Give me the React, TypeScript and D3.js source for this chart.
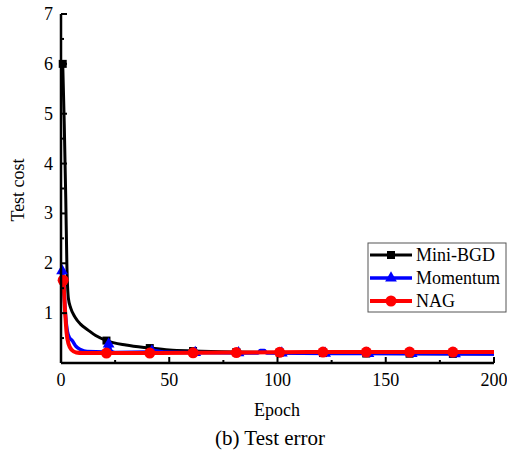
import React from "react";
import * as d3 from "d3";

const seriesNames = ["Mini-BGD", "Momentum", "NAG"];
const seriesColors = ["#000000", "#0000ff", "#ff0000"];

const miniBGD: [number, number][] = [
  [0.8, 6.0], [1.5, 4.8], [2.2, 3.3], [2.7, 2.0], [3.4, 1.3], [4.5, 1.1], [6.5, 0.92],
  [9, 0.78], [12.5, 0.66], [16, 0.55], [21, 0.45], [30, 0.36], [41, 0.3], [50, 0.26],
  [61, 0.24], [80, 0.22], [100, 0.21], [140, 0.19], [200, 0.18],
];
const momentum: [number, number][] = [
  [0.5, 1.85], [1, 1.75], [2, 1.0], [3, 0.62], [4, 0.5], [5, 0.46], [7, 0.33], [9, 0.27],
  [12, 0.23], [20, 0.22], [21, 0.3], [22, 0.38], [23, 0.25], [25, 0.21], [40, 0.22],
  [43, 0.25], [47, 0.22], [60, 0.21], [91, 0.2], [92, 0.25], [94, 0.25], [95, 0.2],
  [140, 0.19], [200, 0.18],
];
const nag: [number, number][] = [
  [0.5, 1.7], [1, 1.66], [1.8, 1.1], [2.6, 0.6], [3.5, 0.38], [5, 0.26], [7, 0.21],
  [10, 0.2], [40, 0.2], [80, 0.21], [120, 0.22], [200, 0.22],
];
const miniMarkers = [0.8, 21, 41, 61, 81, 101, 121, 141, 161, 181];
const momMarkers = [0.5, 22, 42, 62, 82, 102, 122, 142, 162, 182];
const nagMarkers = [1, 21, 41, 61, 81, 101, 121, 141, 161, 181];

const xTicks = [0, 50, 100, 150, 200];
const yTicks = [1, 2, 3, 4, 5, 6, 7];

const FONT = "'Liberation Serif', 'Times New Roman', serif";

function interp(data: [number, number][], x: number) {
  for (let i = 0; i < data.length - 1; i++) {
    if (x >= data[i][0] && x <= data[i + 1][0]) {
      const t = (x - data[i][0]) / (data[i + 1][0] - data[i][0]);
      return data[i][1] + t * (data[i + 1][1] - data[i][1]);
    }
  }
  return data[data.length - 1][1];
}

export default function App() {
  const W = 507, H = 450;
  const x = d3.scaleLinear().domain([0, 200]).range([61, 494]);
  const y = d3.scaleLinear().domain([0, 7]).range([363, 14]);
  const line = d3.line<[number, number]>().x(d => x(d[0])).y(d => y(d[1])).curve(d3.curveMonotoneX);

  const series = [miniBGD, momentum, nag];
  const markers = [miniMarkers, momMarkers, nagMarkers];
  const widths = [3, 3.5, 4];

  const marker = (i: number, cx: number, cy: number, key: string) => {
    const c = seriesColors[i];
    if (i === 0) return <rect key={key} x={cx - 4} y={cy - 4} width={8} height={8} fill={c} />;
    if (i === 1) {
      const p = d3.symbol().type(d3.symbolTriangle).size(60)();
      return <path key={key} d={p || ""} transform={`translate(${cx},${cy})`} fill={c} />;
    }
    return <circle key={key} cx={cx} cy={cy} r={5.5} fill={c} />;
  };

  const xMinor = d3.range(0, 201, 25);
  const yMinor = d3.range(0.5, 7.01, 0.5);

  return (
    <svg width={W} height={H} style={{ position: "absolute", left: 0, top: 0, background: "#fff" }} fontFamily={FONT}>
      <rect width={W} height={H} fill="#fff" />
      {series.map((s, i) => (
        <g key={i}>
          <path d={line(s) || ""} fill="none" stroke={seriesColors[i]} strokeWidth={widths[i]} strokeLinejoin="round" />
          {markers[i].map((m, j) => marker(i, x(m), y(interp(s, m)), `m${i}-${j}`))}
        </g>
      ))}
      {/* axes */}
      <line x1={x(0)} x2={x(200)} y1={y(0)} y2={y(0)} stroke="#000" strokeWidth={2.5} />
      <line x1={x(0)} x2={x(0)} y1={y(0)} y2={y(7)} stroke="#000" strokeWidth={2.5} />
      {xMinor.map(t => (
        <line key={"xm" + t} x1={x(t)} x2={x(t)} y1={y(0)} y2={y(0) - (t % 50 === 0 ? 6 : 3)} stroke="#000" strokeWidth={2} />
      ))}
      {yMinor.map(t => (
        <line key={"ym" + t} x1={x(0)} x2={x(0) + (Math.abs(t % 1) < 1e-9 ? 6 : 3)} y1={y(t)} y2={y(t)} stroke="#000" strokeWidth={2} />
      ))}
      {xTicks.map(t => (
        <text key={"xt" + t} x={x(t)} y={y(0) + 23} textAnchor="middle" fontSize={18}>{t}</text>
      ))}
      {yTicks.map(t => (
        <text key={"yt" + t} x={x(0) - 8} y={y(t) + 6} textAnchor="end" fontSize={18}>{t}</text>
      ))}
      <text x={277} y={416} textAnchor="middle" fontSize={18}>Epoch</text>
      <text x={270} y={445} textAnchor="middle" fontSize={21}>(b) Test error</text>
      <text transform={`translate(24,190) rotate(-90)`} textAnchor="middle" fontSize={18}>Test cost</text>
      {/* legend */}
      <rect x={368} y={243} width={138} height={69} fill="#fff" stroke="#555" strokeWidth={1} />
      {seriesNames.map((n, i) => {
        const ly = 255 + i * 23;
        return (
          <g key={n}>
            <line x1={370} x2={412} y1={ly} y2={ly} stroke={seriesColors[i]} strokeWidth={widths[i]} />
            {marker(i, 391, ly, "lg" + i)}
            <text x={416} y={ly + 6} fontSize={18}>{n}</text>
          </g>
        );
      })}
    </svg>
  );
}
